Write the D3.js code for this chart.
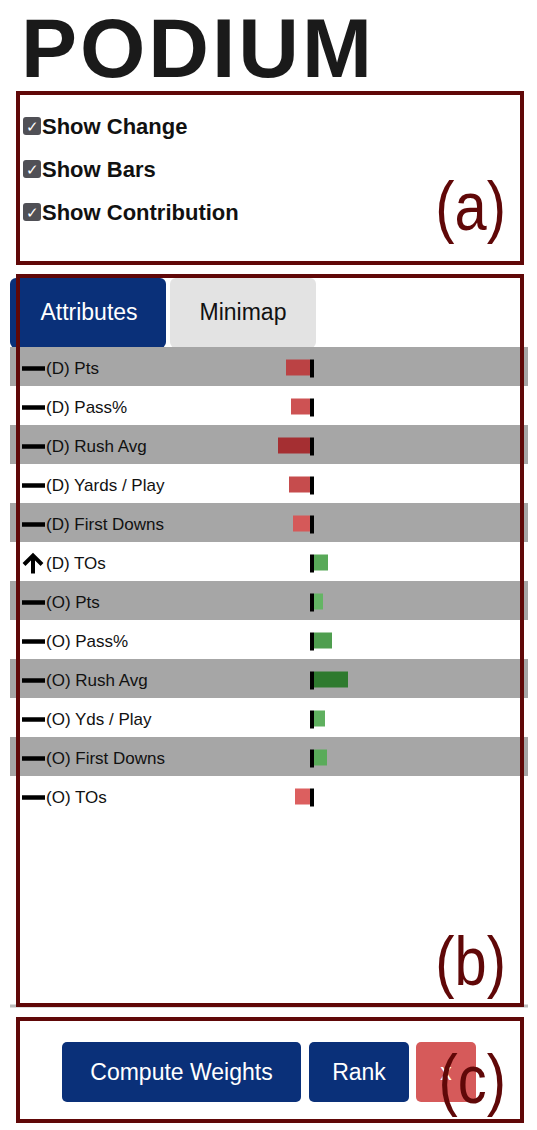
<!DOCTYPE html><html><head><meta charset="utf-8"><script src="https://cdn.jsdelivr.net/npm/d3@7"></script>
<style>body{margin:0;background:#fff}svg{display:block}</style></head><body>
<script>
const attributes=["(D) Pts","(D) Pass%","(D) Rush Avg","(D) Yards / Play","(D) First Downs","(D) TOs","(O) Pts","(O) Pass%","(O) Rush Avg","(O) Yds / Play","(O) First Downs","(O) TOs"];
const contributions=[-24,-19,-32,-21,-17,14,9,18,34,11,13,-15];
const changes=["flat","flat","flat","flat","flat","up","flat","flat","flat","flat","flat","flat"];
const options=["Show Change","Show Bars","Show Contribution"];
const buttons=["Compute Weights","Rank","x"];

const W=537,H=1130,F="'Liberation Sans', Arial, Helvetica, sans-serif";
const svg=d3.select("body").append("svg").attr("width",W).attr("height",H);
const dark="#600808";
svg.append("text").attr("x",21).attr("y",77).attr("font-family",F).attr("font-weight","bold").attr("font-size",84).attr("fill","#1a1a1a").attr("letter-spacing",3).text("PODIUM");

options.forEach((o,i)=>{const y=126+i*43;
 svg.append("rect").attr("x",23).attr("y",y-9).attr("width",18).attr("height",18).attr("rx",3).attr("fill","#505056");
 svg.append("text").attr("x",32).attr("y",y+6).attr("text-anchor","middle").attr("fill","#fff").attr("font-size",15).attr("font-family",F).text("✓");
 svg.append("text").attr("x",42).attr("y",y+8).attr("font-family",F).attr("font-weight","bold").attr("font-size",22).attr("fill","#111").text(o);});

svg.append("rect").attr("x",10).attr("y",278).attr("width",156).attr("height",70).attr("rx",6).attr("fill","#0a3079");
svg.append("text").attr("x",89).attr("y",320).attr("text-anchor","middle").attr("font-family",F).attr("font-size",23).attr("fill","#fff").text("Attributes");
svg.append("rect").attr("x",170).attr("y",278).attr("width",146).attr("height",70).attr("rx",6).attr("fill","#e3e3e3");
svg.append("text").attr("x",243).attr("y",320).attr("text-anchor","middle").attr("font-family",F).attr("font-size",23).attr("fill","#111").text("Minimap");

const y=d3.scaleBand().domain(attributes).range([347,347+39*12]);
const x=d3.scaleLinear().domain([0,1]).range([0,1]);
const zero=310, tick=4;
const col=v=>v<0?d3.interpolateRgb("#dc5f5f","#a52f32")(Math.min(1,(-v-15)/15)):d3.interpolateRgb("#66b866","#2e7a2e")(Math.min(1,(v-8)/24));
const g=svg.append("g");
attributes.forEach((a,i)=>{const y0=y(a),h=y.bandwidth(),c=y0+h/2;
 if(i%2==0)g.append("rect").attr("x",10).attr("y",y0).attr("width",518).attr("height",h).attr("fill","#a6a6a6");
 if(changes[i]=="up"){g.append("path").attr("d",`M33,${c+12}V${c-4}M24,${c+3}L33,${c-6}L42,${c+3}`).attr("stroke","#000").attr("stroke-width",4).attr("fill","none");}
 else g.append("line").attr("x1",22).attr("x2",45).attr("y1",c+2).attr("y2",c+2).attr("stroke","#000").attr("stroke-width",4.5);
 g.append("text").attr("x",46).attr("y",c+7).attr("font-family",F).attr("font-size",17).attr("fill","#111").text(a);
 const v=contributions[i];
 const bx=v<0?zero+x(v):zero+tick, bw=Math.abs(x(v));
 g.append("rect").attr("x",bx).attr("y",c-7).attr("width",bw).attr("height",16).attr("fill",col(v));
 g.append("rect").attr("x",zero).attr("y",c-7).attr("width",tick).attr("height",18).attr("fill","#000");
});
svg.append("line").attr("x1",10).attr("x2",528).attr("y1",1006).attr("y2",1006).attr("stroke","#bbb").attr("stroke-width",3);

const bspec=[[62,239,"#0a3079"],[309,100,"#0a3079"],[416,60,"#d65a5a"]];
buttons.forEach((b,i)=>{const [bx,bw,f]=bspec[i];
 svg.append("rect").attr("x",bx).attr("y",1042).attr("width",bw).attr("height",60).attr("rx",5).attr("fill",f);
 svg.append("text").attr("x",bx+bw/2).attr("y",1080).attr("text-anchor","middle").attr("font-family",F).attr("font-size",23).attr("fill","#fff").text(b);});

[[18,93,504,170],[18,276,504,729],[18,1019,504,102]].forEach(r=>svg.append("rect").attr("x",r[0]).attr("y",r[1]).attr("width",r[2]).attr("height",r[3]).attr("fill","none").attr("stroke",dark).attr("stroke-width",4));
[["(a)",230],["(b)",985],["(c)",1103]].forEach(l=>svg.append("text").attr("x",506).attr("y",l[1]).attr("text-anchor","end").attr("font-family",F).attr("font-size",68).attr("fill",dark).attr("transform",`translate(506,0) scale(0.85,1) translate(-506,0)`).text(l[0]));
</script></body></html>
